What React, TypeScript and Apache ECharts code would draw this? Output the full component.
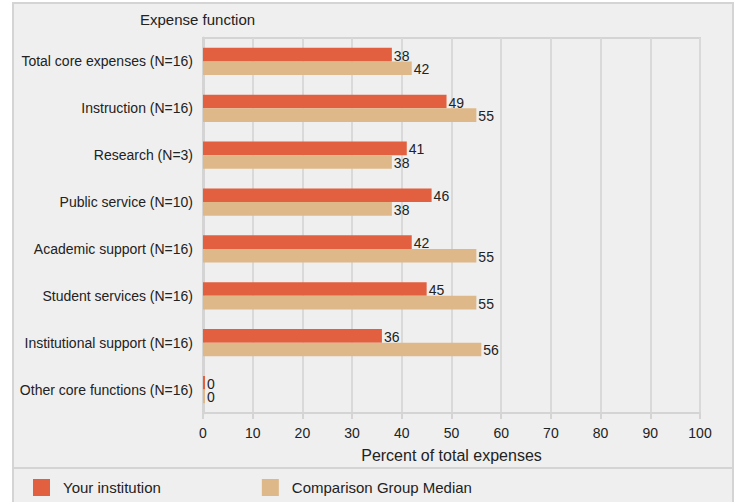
import React, { useEffect, useRef } from "react";
import * as echarts from "echarts";

const categories = [
  "Total core expenses (N=16)",
  "Instruction (N=16)",
  "Research (N=3)",
  "Public service (N=10)",
  "Academic support (N=16)",
  "Student services (N=16)",
  "Institutional support (N=16)",
  "Other core functions (N=16)",
];
const yourInstitution = [38, 49, 41, 46, 42, 45, 36, 0];
const comparisonMedian = [42, 55, 38, 38, 55, 55, 56, 0];
const seriesNames = ["Your institution", "Comparison Group Median"];
const yAxisTitle = "Expense function";
const xAxisTitle = "Percent of total expenses";

const FONT = "'Liberation Sans', Arial, Helvetica, sans-serif";
const TEXT = "#222222";
const LINE = "#d4d4d4";

export default function App() {
  const ref = useRef<HTMLDivElement>(null);
  useEffect(() => {
    if (!ref.current) return;
    const chart = echarts.init(ref.current, null, { renderer: "svg" });
    const label = {
      show: true,
      position: "right",
      distance: 2,
      fontSize: 14,
      color: TEXT,
      fontFamily: FONT,
      offset: [0, 1],
    };
    chart.setOption({
      animation: false,
      textStyle: { fontFamily: FONT },
      graphic: [
        {
          type: "rect",
          z: -100,
          shape: { x: 13, y: 3, width: 720, height: 520 },
          style: { fill: "#efefef", stroke: LINE, lineWidth: 2 },
          silent: true,
        },
        {
          type: "line",
          z: -99,
          shape: { x1: 13, y1: 468, x2: 733, y2: 468 },
          style: { stroke: LINE, lineWidth: 2 },
          silent: true,
        },
      ],
      title: {
        text: yAxisTitle,
        left: 140,
        top: 12,
        padding: 0,
        textStyle: { fontSize: 15, fontWeight: "normal", color: TEXT, fontFamily: FONT },
      },
      legend: {
        data: seriesNames,
        left: 33,
        top: 479,
        padding: 0,
        itemWidth: 17,
        itemHeight: 17,
        itemGap: 101,
        icon: "rect",
        textStyle: { fontSize: 15, color: TEXT, fontFamily: FONT, padding: [0, 0, 0, 8] },
      },
      grid: {
        left: 203,
        right: 37,
        top: 38,
        bottom: 89,
        show: true,
        borderColor: LINE,
        borderWidth: 2,
        backgroundColor: "transparent",
      },
      xAxis: {
        type: "value",
        min: 0,
        max: 100,
        interval: 10,
        name: xAxisTitle,
        nameLocation: "middle",
        nameGap: 34,
        nameTextStyle: { fontSize: 16, color: TEXT, fontFamily: FONT },
        axisLine: { show: true, lineStyle: { color: LINE, width: 2 } },
        axisTick: { show: true, length: 6, lineStyle: { color: LINE, width: 2 } },
        axisLabel: { fontSize: 14, color: TEXT, margin: 13, fontFamily: FONT },
        splitLine: { show: true, lineStyle: { color: "#d9d9d9", width: 2 } },
      },
      yAxis: {
        type: "category",
        data: categories,
        inverse: true,
        axisLine: { show: true, lineStyle: { color: LINE, width: 3 } },
        axisTick: { show: false },
        axisLabel: { fontSize: 14, color: TEXT, margin: 10, fontFamily: FONT },
        splitLine: { show: false },
      },
      series: [
        {
          name: seriesNames[0],
          type: "bar",
          data: yourInstitution,
          itemStyle: { color: "#e2603f" },
          barGap: "0%",
          barCategoryGap: "42%",
          barMinHeight: 2,
          label,
        },
        {
          name: seriesNames[1],
          type: "bar",
          data: comparisonMedian,
          itemStyle: { color: "#dfb889" },
          barGap: "0%",
          barCategoryGap: "42%",
          barMinHeight: 2,
          label,
        },
      ],
    });
    return () => chart.dispose();
  }, []);
  return (
    <div
      ref={ref}
      style={{ position: "fixed", left: 0, top: 0, width: 737, height: 502, background: "#ffffff" }}
    />
  );
}
